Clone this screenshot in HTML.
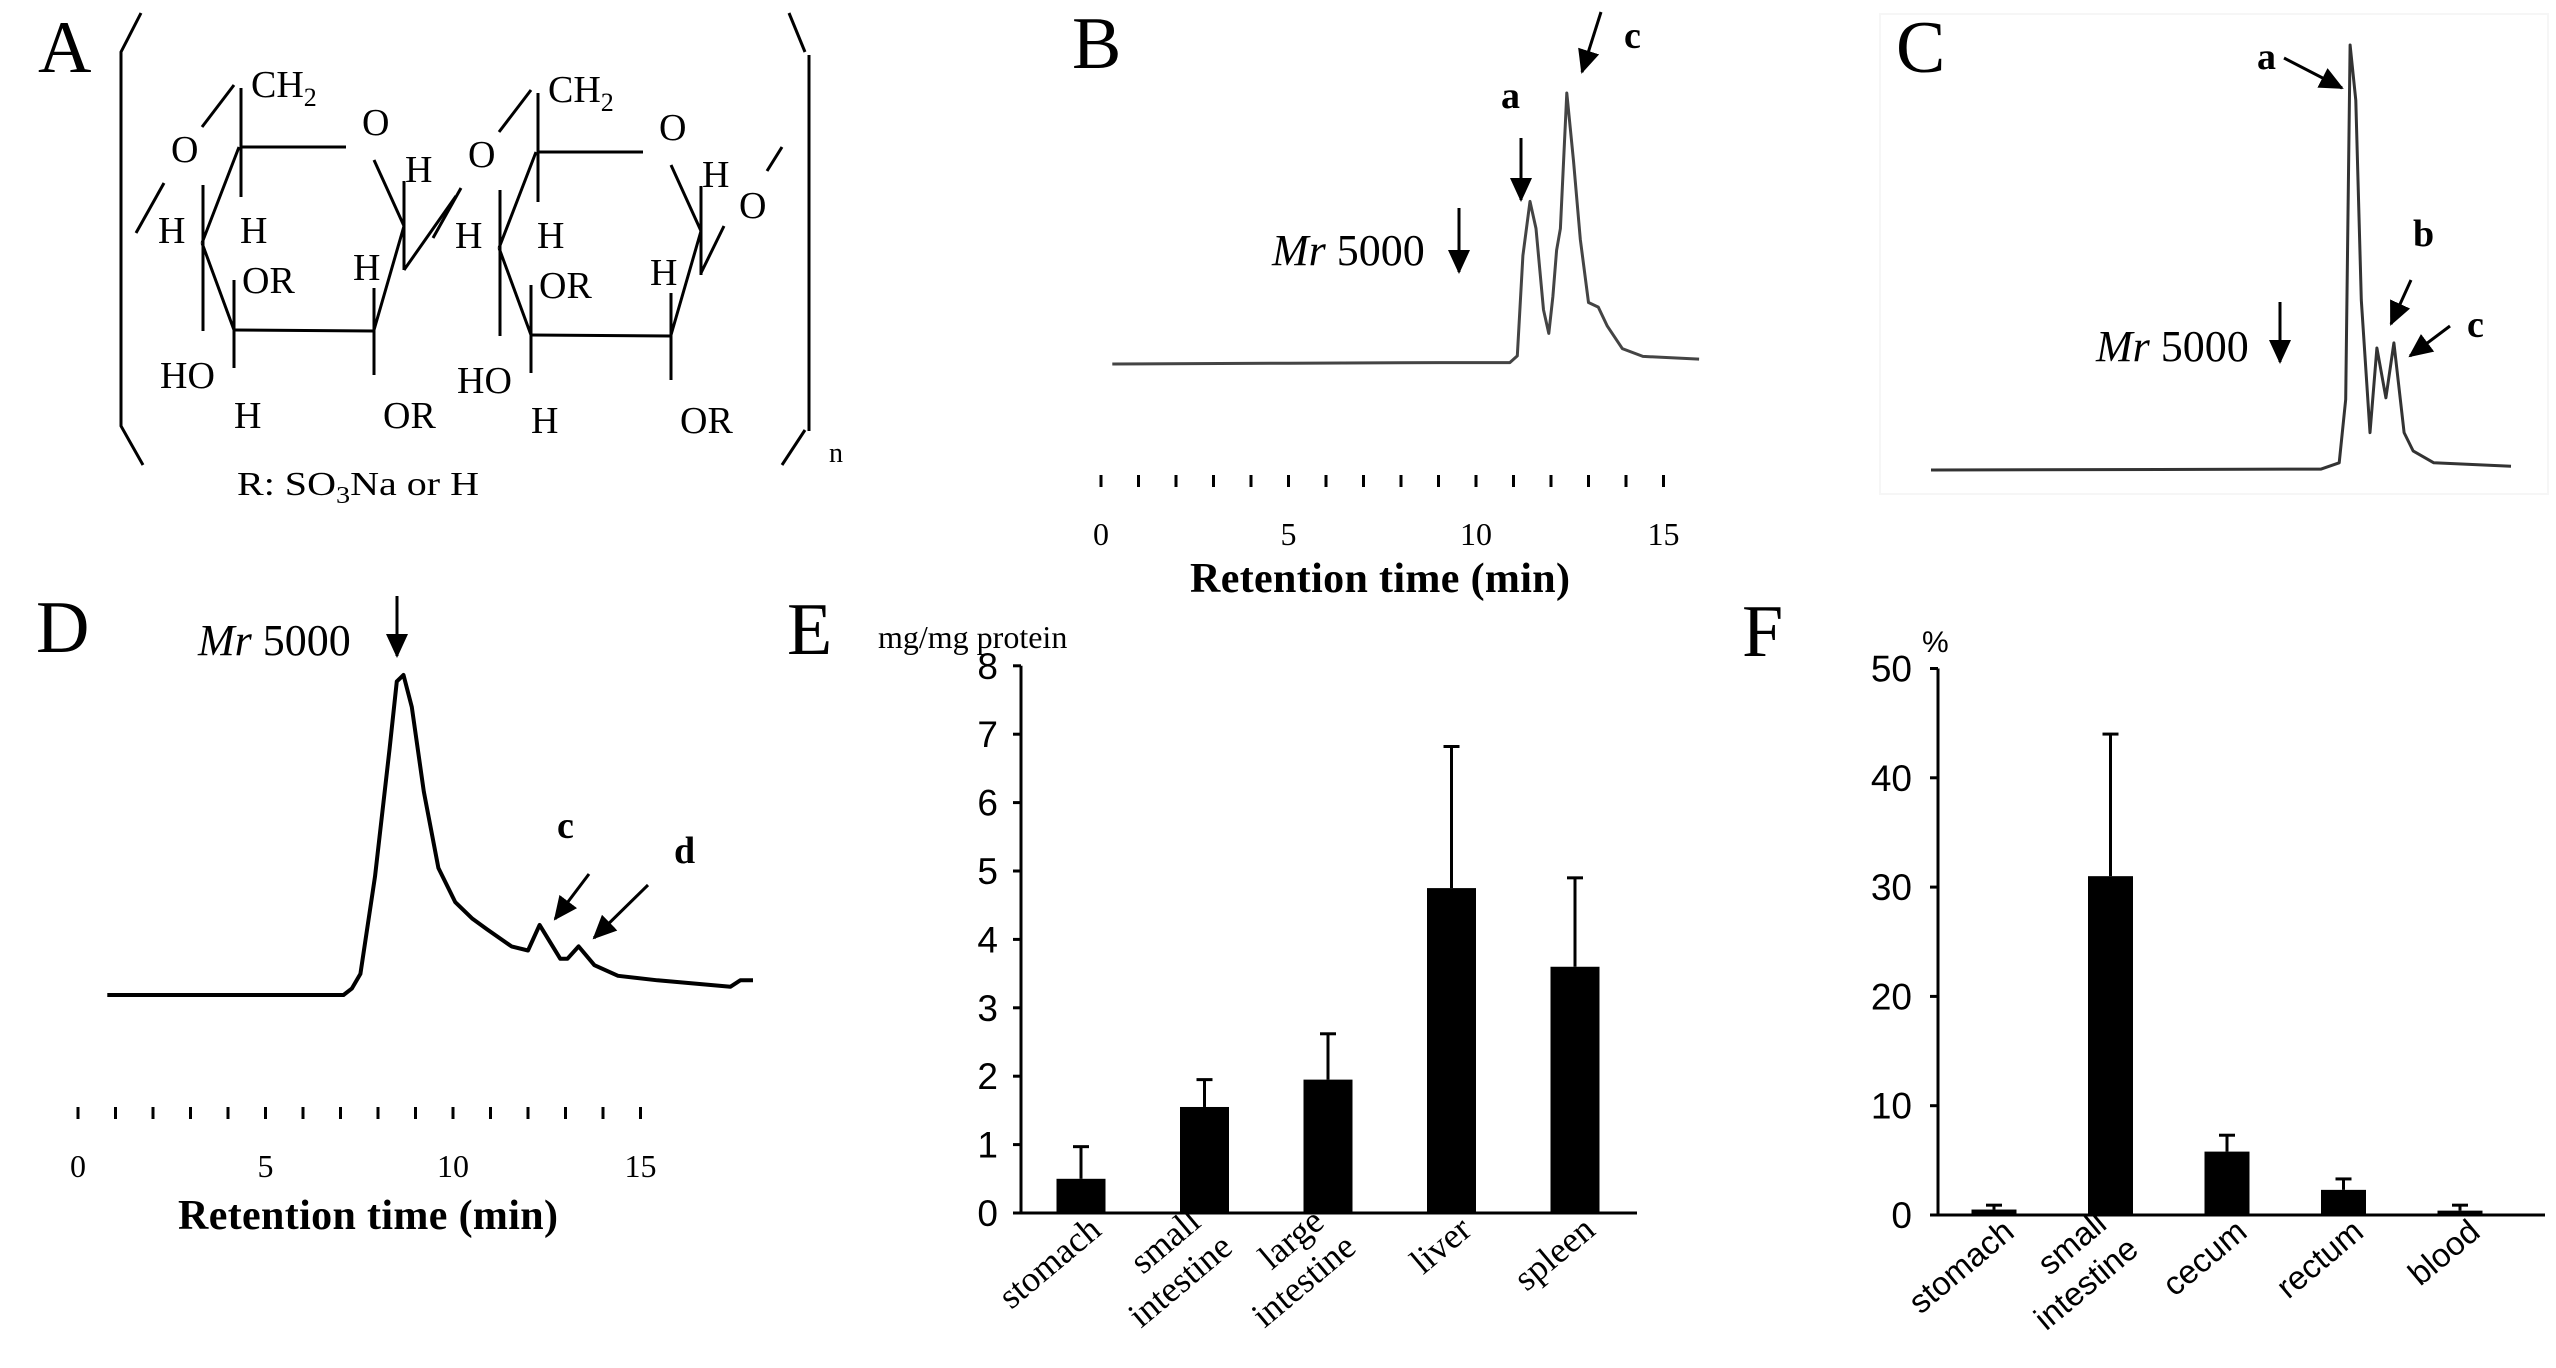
<!DOCTYPE html>
<html><head><meta charset="utf-8"><style>
html,body{margin:0;padding:0;background:#fff;}
svg{display:block;}
text{font-family:"Liberation Serif",serif;fill:#000;}
.sans{font-family:"Liberation Sans",sans-serif;}
</style></head><body>
<svg id="fig" width="2556" height="1368" viewBox="0 0 2556 1368" xmlns="http://www.w3.org/2000/svg">
<!-- Panel A: structure -->
<g id="panelA" stroke="#000" stroke-width="3" fill="none">
  <text x="38" y="72" font-size="74" stroke="none">A</text>
  <polyline points="141,13 121,52 121,426 143,465"/>
  <polyline points="789,13 805,52"/>
  <polyline points="809,55 809,431"/>
  <polyline points="805,430 782,465"/>
  <g id="ring1">
    <line x1="202" y1="127" x2="234" y2="85"/>
    <line x1="241" y1="88" x2="241" y2="197"/>
    <line x1="241" y1="147" x2="346" y2="147"/>
    <line x1="239" y1="147" x2="202" y2="243"/>
    <line x1="203" y1="185" x2="203" y2="331"/>
    <line x1="202" y1="243" x2="234" y2="330"/>
    <line x1="234" y1="280" x2="234" y2="368"/>
    <line x1="234" y1="330" x2="374" y2="331"/>
    <line x1="374" y1="288" x2="374" y2="375"/>
    <line x1="404" y1="226" x2="374" y2="330"/>
    <line x1="374" y1="160" x2="404" y2="226"/>
    <line x1="404" y1="181" x2="404" y2="270"/>
    <line x1="164" y1="183" x2="136" y2="233"/>
    <g stroke="none" font-size="38">
      <text x="251" y="97">CH<tspan font-size="26" dy="9">2</tspan></text>
      <text x="171" y="162">O</text>
      <text x="362" y="135">O</text>
      <text x="405" y="182">H</text>
      <text x="158" y="243">H</text>
      <text x="240" y="243">H</text>
      <text x="242" y="293">OR</text>
      <text x="353" y="280">H</text>
      <text x="160" y="388">HO</text>
      <text x="234" y="428">H</text>
      <text x="383" y="428">OR</text>
    </g>
  </g>
  <line x1="404" y1="270" x2="456" y2="196"/>
  <use href="#ring1" transform="translate(297,5)"/>
  <line x1="782" y1="147" x2="767" y2="171"/>
  <line x1="724" y1="226" x2="701" y2="273"/>
  <g stroke="none">
    <text x="739" y="218" font-size="38">O</text>
    <text x="829" y="462" font-size="28">n</text>
    <text x="237" y="495" font-size="34" textLength="242" lengthAdjust="spacingAndGlyphs">R: SO<tspan font-size="24" dy="8">3</tspan><tspan dy="-8">Na or H</tspan></text>
  </g>
</g>

<defs>
  <marker id="ahb" markerWidth="24" markerHeight="24" refX="22" refY="12" orient="auto" markerUnits="userSpaceOnUse" viewBox="0 0 24 24">
    <path d="M0,1 L24,12 L0,23 z" fill="#000"/>
  </marker>
</defs>

<g id="panelB"></g>
<g id="panelC"></g>
<g id="panelD"></g>
<g id="panelE"></g>
<g id="panelF"></g>
</svg>
<script>
// ---------- data ----------
const bTimes = [0.3, 5, 9, 10.9, 11.1, 11.25, 11.44, 11.6, 11.8, 11.94, 12.05, 12.15, 12.25, 12.42, 12.6, 12.78, 13.0, 13.26, 13.5, 13.9, 14.45, 15.95];
const bSignal = [0, 0.3, 0.5, 0.5, 3, 40, 60, 50, 20, 11.3, 25, 42, 50, 100, 75, 46, 22.7, 21, 14, 5.7, 2.8, 1.8];
const cTimes = [0, 10.76, 11.26, 11.44, 11.56, 11.72, 11.87, 12.11, 12.3, 12.55, 12.77, 13.05, 13.3, 13.87, 16];
const cSignal = [0, 0.2, 1.7, 16.6, 100, 87, 40, 8.8, 28.7, 17, 29.9, 8.8, 4.5, 1.7, 0.9];
const dTimes = [0.78, 7.08, 7.3, 7.53, 7.92, 8.31, 8.5, 8.68, 8.9, 9.22, 9.61, 10.06, 10.52, 10.91, 11.56, 12.0, 12.31, 12.86, 13.05, 13.35, 13.77, 14.4, 15.45, 17.4, 17.66, 18.0];
const dSignal = [0, 0, 2, 6.6, 37, 77, 98, 100, 90, 63.6, 39.7, 29, 23.8, 20.5, 15.2, 13.9, 21.9, 11.3, 11.3, 15.2, 9.3, 6, 4.6, 2.6, 4.6, 4.6];
const timeTickLabels = ["0", "5", "10", "15"];
const eCategories = [["stomach"], ["small", "intestine"], ["large", "intestine"], ["liver"], ["spleen"]];
const eValues = [0.5, 1.55, 1.95, 4.75, 3.6];
const eErrors = [0.47, 0.4, 0.67, 2.07, 1.3];
const eTicks = [0, 1, 2, 3, 4, 5, 6, 7, 8];
const fCategories = [["stomach"], ["small", "intestine"], ["cecum"], ["rectum"], ["blood"]];
const fValues = [0.5, 31, 5.8, 2.3, 0.4];
const fErrors = [0.4, 13, 1.5, 1.0, 0.5];
const fTicks = [0, 10, 20, 30, 40, 50];

const NS = "http://www.w3.org/2000/svg";
function mk(tag, attrs, parent) {
  const e = document.createElementNS(NS, tag);
  for (const k in attrs) e.setAttribute(k, attrs[k]);
  parent.appendChild(e);
  return e;
}
function txt(parent, x, y, s, size, extra) {
  const t = mk("text", Object.assign({x: x, y: y, "font-size": size}, extra || {}), parent);
  t.textContent = s;
  return t;
}
function arrow(parent, x1, y1, x2, y2, name) {
  const l = mk("line", {x1: x1, y1: y1, x2: x2, y2: y2, stroke: "#000", "stroke-width": 3, "marker-end": "url(#ahb)"}, parent);
  
  
}
function mrLabel(parent, x, y, size) {
  const t = mk("text", {x: x, y: y, "font-size": size}, parent);
  
  
  const a = mk("tspan", {"font-style": "italic"}, t); a.textContent = "Mr";
  const b = mk("tspan", {}, t); b.textContent = " 5000";
}
function trace(parent, times, sig, xs, ys, color, w, name) {
  const pts = times.map((t, i) => xs(t).toFixed(1) + "," + ys(sig[i]).toFixed(1)).join(" ");
  const p = mk("polyline", {points: pts, fill: "none", stroke: color, "stroke-width": w, "stroke-linejoin": "round"}, parent);
  
  
}
function timeAxis(parent, xs, tickY, labelY, titleX, titleY) {
  const g = mk("g", {}, parent);
  
  
  for (let m = 0; m <= 15; m++) {
    const tk = mk("line", {x1: xs(m), x2: xs(m), y1: tickY, y2: tickY + 12, stroke: "#000", "stroke-width": 3}, g);
    
    
  }
  timeTickLabels.forEach(s => {
    const t = txt(g, xs(+s), labelY, s, 32, {"text-anchor": "middle"});
    
    
  });
  const tt = txt(g, titleX, titleY, "Retention time (min)", 42, {"text-anchor": "middle", "font-weight": "bold", textLength: 380});
  
  
}

// ---------- Panel B ----------
(function () {
  const g = document.getElementById("panelB");
  const xs = t => 1101 + t * 37.5;
  const ys = v => 364 - v * 2.71;
  const L = txt(g, 1072, 68, "B", 74);
  
  
  trace(g, bTimes, bSignal, xs, ys, "#444", 3, "trace-b");
  timeAxis(g, xs, 475, 545, 1380, 592);
  mrLabel(g, 1272, 265, 44);
  arrow(g, 1459, 208, 1459, 272, "mr-arrow-b");
  const a = txt(g, 1501, 108, "a", 38, {"font-weight": "bold"});
  
  
  arrow(g, 1521, 138, 1521, 200, "arrow-a");
  const c = txt(g, 1624, 48, "c", 38, {"font-weight": "bold"});
  
  
  arrow(g, 1601, 12, 1582, 72, "arrow-c");
})();

// ---------- Panel C ----------
(function () {
  const g = document.getElementById("panelC");
  const xs = t => 1931 + t * 36.25;
  const ys = v => 470 - v * 4.25;
  const fr = mk("rect", {x: 1880, y: 14, width: 668, height: 480, fill: "none", stroke: "#f6f6f6", "stroke-width": 2}, g);
  
  
  const L = txt(g, 1896, 72, "C", 74);
  
  
  trace(g, cTimes, cSignal, xs, ys, "#333", 3, "trace-c");
  mrLabel(g, 2096, 361, 44);
  arrow(g, 2280, 302, 2280, 362, "mr-arrow-c");
  const a = txt(g, 2257, 69, "a", 38, {"font-weight": "bold"});
  
  
  arrow(g, 2284, 58, 2342, 88, "arrow-a");
  const b = txt(g, 2413, 246, "b", 38, {"font-weight": "bold"});
  
  
  arrow(g, 2411, 280, 2391, 324, "arrow-b");
  const c = txt(g, 2467, 337, "c", 38, {"font-weight": "bold"});
  
  
  arrow(g, 2450, 326, 2410, 356, "arrow-c");
})();

// ---------- Panel D ----------
(function () {
  const g = document.getElementById("panelD");
  const xs = t => 78 + t * 37.5;
  const ys = v => 995 - v * 3.2;
  const L = txt(g, 36, 652, "D", 74);
  
  
  trace(g, dTimes, dSignal, xs, ys, "#000", 4, "trace-d");
  timeAxis(g, xs, 1107, 1177, 368, 1229);
  mrLabel(g, 198, 655, 44);
  arrow(g, 397, 596, 397, 656, "mr-arrow-d");
  const c = txt(g, 557, 838, "c", 38, {"font-weight": "bold"});
  
  
  arrow(g, 589, 874, 555, 919, "arrow-c");
  const d = txt(g, 674, 863, "d", 38, {"font-weight": "bold"});
  
  
  arrow(g, 648, 885, 594, 938, "arrow-d");
})();

// ---------- Bar charts ----------
function barChart(g, cfg, cats, vals, errs, ticks) {
  const ys = v => cfg.y0 - v * cfg.unit;
  const ax = mk("polyline", {points: cfg.ax + "," + ys(ticks[ticks.length - 1]) + " " + cfg.ax + "," + cfg.y0 + " " + cfg.xEnd + "," + cfg.y0, fill: "none", stroke: "#000", "stroke-width": 3}, g);
  
  
  ticks.forEach(v => {
    const tk = mk("line", {x1: cfg.ax - 8, x2: cfg.ax, y1: ys(v), y2: ys(v), stroke: "#000", "stroke-width": 3}, g);
    
    
    const t = txt(g, cfg.labelX, ys(v) + 13, String(v), 37, {"text-anchor": "end", "class": "sans"});
    
    
  });
  vals.forEach((v, i) => {
    const cx = cfg.x0 + i * cfg.step;
    const r = mk("rect", {x: cx - cfg.bw / 2, y: ys(v), width: cfg.bw, height: cfg.y0 - ys(v), fill: "#000"}, g);
    
    
    const top = ys(v + errs[i]);
    const e1 = mk("line", {x1: cx, x2: cx, y1: ys(v), y2: top, stroke: "#000", "stroke-width": 3}, g);
    
    
    const e2 = mk("line", {x1: cx - 8, x2: cx + 8, y1: top, y2: top, stroke: "#000", "stroke-width": 3}, g);
    
    
    const lg = mk("g", {transform: "translate(" + (cx + (cats[i].length > 1 ? -2 : 22)) + "," + (cfg.y0 + (cats[i].length > 1 ? 12 : 20)) + ") rotate(-40)"}, g);
    
    
    cats[i].forEach((s, j) => {
      txt(lg, j * 8, j * 40, s, cfg.catSize, {"text-anchor": "end", "class": cfg.catClass});
    });
  });
}
(function () {
  const g = document.getElementById("panelE");
  const L = txt(g, 787, 654, "E", 74);
  
  
  const u = txt(g, 878, 648, "mg/mg protein", 32);
  
  
  barChart(g, {ax: 1021, y0: 1213, unit: 68.4, xEnd: 1637, labelX: 998, x0: 1081, step: 123.5, bw: 49, catSize: 36, catClass: ""}, eCategories, eValues, eErrors, eTicks);
})();
(function () {
  const g = document.getElementById("panelF");
  const L = txt(g, 1742, 656, "F", 74);
  
  
  const u = txt(g, 1922, 652, "%", 30, {"class": "sans"});
  
  
  barChart(g, {ax: 1938, y0: 1215, unit: 10.93, xEnd: 2545, labelX: 1912, x0: 1994, step: 116.5, bw: 45, catSize: 33, catClass: "sans"}, fCategories, fValues, fErrors, fTicks);
})();
</script>
</body></html>
